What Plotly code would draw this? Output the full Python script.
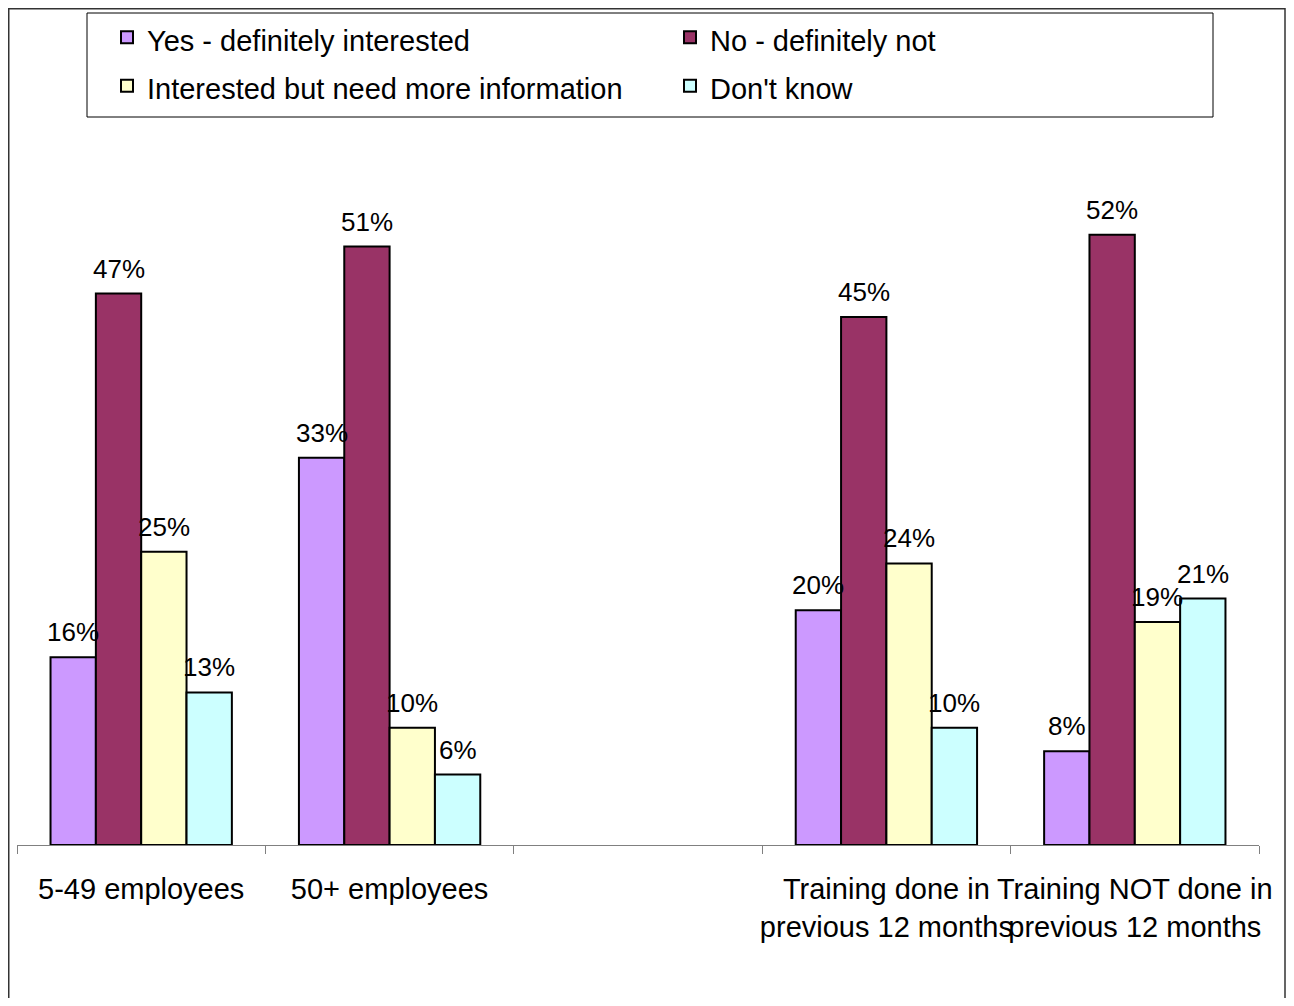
import plotly.graph_objects as go

categories = ["5-49 employees", "50+ employees", " ",
              "Training done in<br>previous 12 months",
              "Training NOT done in<br>previous 12 months"]
series_names = ["Yes - definitely interested", "No - definitely not",
                "Interested but need more information", "Don't know"]
yes_vals = [16, 33, None, 20, 8]
no_vals = [47, 51, None, 45, 52]
info_vals = [25, 10, None, 24, 19]
dk_vals = [13, 6, None, 10, 21]
colors = ["#CC99FF", "#993366", "#FFFFCC", "#CCFFFF"]

OFF = 8  # page body margin
W, H = 1294 - 2 * OFF, 1006 - 2 * OFF
# plot area in page pixels: x 17..1259, y 141..845
ML = 17 - OFF
MR = W - (1259 - OFF)
MT = 141 - OFF
MB = H - (845 - OFF)
plot_w = W - ML - MR
plot_h = H - MT - MB
BARGAP = 0.27
FONT = "Arial, Liberation Sans, sans-serif"


def fx(p):
    # page x pixel -> paper coordinate
    return (p - OFF - ML) / plot_w


def fy(p):
    # page y pixel -> paper coordinate
    return (H - MB - (p - OFF)) / plot_h


fig = go.Figure()
all_vals = [yes_vals, no_vals, info_vals, dk_vals]
for name, vals, col in zip(series_names, all_vals, colors):
    fig.add_trace(go.Bar(
        x=categories, y=vals,
        name=f"<span style='font-size:29px'>{name}</span>",
        marker=dict(color=col, line=dict(color="black", width=2)),
    ))

bar_px = plot_w / len(categories) * (1 - BARGAP) / len(all_vals)
annotations = []
for i, vals in enumerate(all_vals):
    for cat, v in zip(categories, vals):
        if v is None:
            continue
        annotations.append(dict(
            x=cat, y=v, xref="x", yref="y", text=f"{v}%", showarrow=False,
            xshift=(i - 1.5) * bar_px, yanchor="bottom", yshift=8,
            font=dict(family=FONT, size=26, color="black")))

# outer frame: left, top, right sides (bottom runs off the page)
frame_path = (f"M {fx(8.75)},{fy(1010)} L {fx(8.75)},{fy(8.75)} "
              f"L {fx(1285)},{fy(8.75)} L {fx(1285)},{fy(1010)}")

fig.update_layout(
    width=W, height=H,
    margin=dict(l=ML, r=MR, t=MT, b=MB, pad=0, autoexpand=False),
    paper_bgcolor="white", plot_bgcolor="white",
    barmode="group", bargap=BARGAP, bargroupgap=0,
    font=dict(family=FONT, size=29, color="black"),
    showlegend=True,
    legend=dict(
        orientation="h", xref="container", yref="container",
        x=(107 - OFF) / W, y=1,
        xanchor="left", yanchor="top",
        borderwidth=0, bgcolor="rgba(0,0,0,0)",
        entrywidth=518, entrywidthmode="pixels",
        font=dict(family=FONT, size=35, color="black"),
        traceorder="normal",
    ),
    xaxis=dict(
        type="category", showline=True, linecolor="#808080", linewidth=1,
        ticks="outside", ticklen=8, tickcolor="#808080", tickwidth=1,
        tickson="boundaries", showgrid=False, zeroline=False,
        tickangle=0, automargin=False,
        ticklabelstandoff=18,
        tickfont=dict(family=FONT, size=29, color="black"),
    ),
    yaxis=dict(range=[0, 60], visible=False, showgrid=False, zeroline=False,
               automargin=False),
    annotations=annotations,
    shapes=[
        dict(type="path", xref="paper", yref="paper", path=frame_path,
             line=dict(color="#333333", width=1.5), layer="below"),
        dict(type="rect", xref="paper", yref="paper",
             x0=fx(87), x1=fx(1213), y0=fy(117), y1=fy(13),
             line=dict(color="black", width=1), layer="below"),
    ],
)

fig.write_html("out.html")
